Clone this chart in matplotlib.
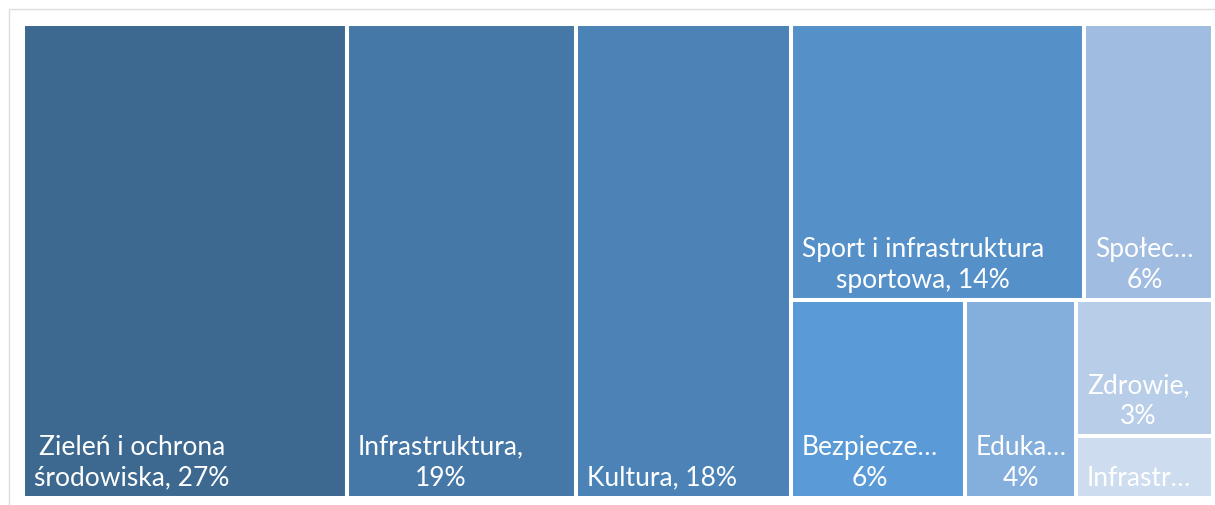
import matplotlib.pyplot as plt
from matplotlib.patches import Rectangle

# budget share per area (percent)
categories = ["Zieleń i ochrona środowiska", "Infrastruktura", "Kultura",
              "Sport i infrastruktura sportowa", "Społec…", "Bezpiecze…",
              "Eduka…", "Zdrowie", "Infrastr…"]
shares = [27.2, 19.3, 18.0, 14.4, 6.3, 6.1, 3.9, 3.3, 1.5]
labels = ["Zieleń i ochrona\nśrodowiska, 27%", "Infrastruktura,\n19%", "Kultura, 18%",
          "Sport i infrastruktura\nsportowa, 14%", "Społec…\n6%", "Bezpiecze…\n6%",
          "Eduka…\n4%", "Zdrowie,\n3%", "Infrastr…"]
colors = ["#3D6990", "#4678A7", "#4C83B7", "#5591C8", "#A0BDE1",
          "#5A9AD6", "#84AEDC", "#B7CDE8", "#CDDCEE"]

# how the tiles are nested: columns first, then rows, then columns ...
groups = [0, 1, 2, [[3, 4], [5, 6, [7, 8]]]]


def total(node):
    if isinstance(node, int):
        return shares[node]
    return sum(total(n) for n in node)


def layout(node, x, y, w, h, horiz, out):
    if isinstance(node, int):
        out[node] = (x, y, w, h)
        return
    t = total(node)
    top = y + h
    for child in node:
        f = total(child) / t
        if horiz:
            layout(child, x, y, w * f, h, False, out)
            x += w * f
        else:
            layout(child, x, top - h * f, w, h * f, True, out)
            top -= h * f


def main():
    plt.rcParams['font.family'] = ['Lato', 'DejaVu Sans']
    W, H = 1215, 506
    fig = plt.figure(figsize=(W / 100, H / 100), dpi=100)

    # light frame around the chart
    fig.add_artist(Rectangle((8.5 / W, -0.1), 1.2, 1 - 9.5 / H + 0.1,
                             transform=fig.transFigure, fill=False,
                             edgecolor="#dddddd", lw=1))

    ax = fig.add_axes([23 / W, 7 / H, 1190 / W, 474 / H])
    ax.set_xlim(0, 1)
    ax.set_ylim(0, 1)
    ax.axis('off')

    rects = {}
    layout(groups, 0, 0, 1, 1, True, rects)
    for i in range(len(shares)):
        x, y, w, h = rects[i]
        ax.add_patch(Rectangle((x, y), w, h, facecolor=colors[i],
                               edgecolor="white", lw=2.9))
        ax.annotate(labels[i], (x, y), xytext=(8, 6), textcoords='offset points',
                    ha='left', va='bottom', multialignment='center',
                    color='white', fontsize=19, linespacing=1.3)

    fig.savefig('out.png', dpi=100)


if __name__ == "__main__":
    main()
